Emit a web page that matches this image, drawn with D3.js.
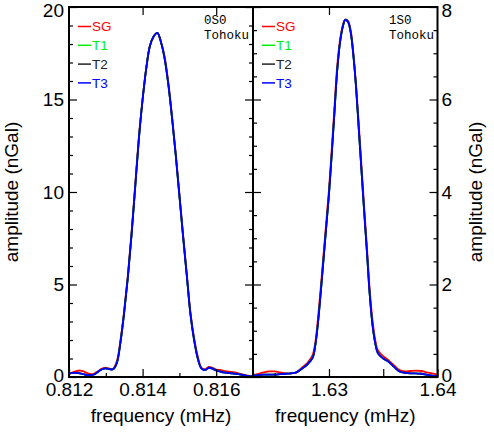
<!DOCTYPE html>
<html>
<head>
<meta charset="utf-8">
<script src="https://cdn.jsdelivr.net/npm/d3@7"></script>
<style>
  body { margin: 0; background: #fff; }
  svg { display: block; font-family: "Liberation Sans", Arial, Helvetica, sans-serif; }
</style>
</head>
<body>
<div id="chart"></div>
<script>
"use strict";

// === DATA: 0S0 mode (left panel) ===
const freq0 = [0.8120, 0.8121, 0.8122, 0.8123, 0.8124, 0.8125, 0.8126, 0.8127, 0.8128, 0.8129,
  0.8130, 0.8131, 0.8132, 0.8133, 0.8134, 0.8135, 0.8136, 0.8137, 0.8138, 0.8139,
  0.8140, 0.8141, 0.8142, 0.8143, 0.8144, 0.8145, 0.8146, 0.8147, 0.8148, 0.8149,
  0.8150, 0.8151, 0.8152, 0.8153, 0.8154, 0.8155, 0.8156, 0.8157, 0.8158, 0.8159,
  0.8160, 0.8161, 0.8162, 0.8163, 0.8164, 0.8165, 0.8166, 0.8167, 0.8168, 0.8169, 0.8170];
const t3_0 = [0.2, 0.22, 0.22, 0.2, 0.15, 0.1, 0.1, 0.15, 0.3, 0.42,
  0.47, 0.42, 0.42, 0.75, 1.9, 3.5, 5.4, 7.7, 10.3, 12.9,
  15.0, 16.7, 17.9, 18.4, 18.6, 18.1, 17.2, 15.8, 14.0, 12.0,
  9.8, 7.6, 5.5, 3.4, 2.0, 1.0, 0.45, 0.38, 0.5, 0.45,
  0.35, 0.3, 0.25, 0.22, 0.2, 0.18, 0.15, 0.12, 0.08, 0.05, 0.03];
const t2_0 = [0.2, 0.22, 0.22, 0.2, 0.15, 0.1, 0.1, 0.15, 0.3, 0.42,
  0.47, 0.42, 0.42, 0.77, 1.9, 3.5, 5.4, 7.7, 10.3, 12.9,
  15.0, 16.7, 17.9, 18.4, 18.6, 18.1, 17.2, 15.8, 14.0, 12.0,
  9.8, 7.6, 5.5, 3.4, 2.0, 1.0, 0.46, 0.38, 0.5, 0.45,
  0.35, 0.3, 0.25, 0.22, 0.2, 0.18, 0.15, 0.12, 0.08, 0.05, 0.03];
const t1_0 = t2_0;
const sg_0 = [0.15, 0.25, 0.32, 0.35, 0.3, 0.2, 0.15, 0.2, 0.33, 0.45,
  0.5, 0.45, 0.45, 0.85, 2.0, 3.6, 5.5, 7.8, 10.4, 13.0,
  15.0, 16.7, 17.9, 18.4, 18.6, 18.1, 17.3, 15.9, 14.1, 12.1,
  9.9, 7.7, 5.6, 3.5, 2.1, 1.1, 0.5, 0.42, 0.55, 0.5,
  0.4, 0.38, 0.33, 0.3, 0.28, 0.25, 0.2, 0.15, 0.1, 0.06, 0.05];

// === DATA: 1S0 mode (right panel) ===
const freq1 = [1.6230, 1.6235, 1.6240, 1.6245, 1.6250, 1.6255, 1.6260, 1.6265, 1.6270, 1.6275,
  1.6280, 1.6285, 1.62875, 1.6290, 1.62925, 1.6295, 1.62975, 1.6300, 1.63025, 1.6305,
  1.63075, 1.6310, 1.63125, 1.6315, 1.63175, 1.6320, 1.63225, 1.6325, 1.63275, 1.6330,
  1.63325, 1.6335, 1.63375, 1.6340, 1.63425, 1.6345, 1.6350, 1.6355, 1.6360, 1.6365,
  1.6370, 1.6375, 1.6380, 1.6385, 1.6390, 1.6395, 1.6400];
const t3_1 = [0.03, 0.04, 0.05, 0.05, 0.05, 0.06, 0.07, 0.08, 0.1, 0.18,
  0.27, 0.42, 0.7, 1.2, 1.85, 2.55, 3.25, 3.95, 4.8, 5.7,
  6.6, 7.2, 7.55, 7.72, 7.68, 7.45, 6.95, 6.25, 5.35, 4.45,
  3.55, 2.7, 1.8, 1.15, 0.75, 0.52, 0.4, 0.33, 0.22, 0.12,
  0.09, 0.08, 0.08, 0.07, 0.05, 0.03, 0.02];
const t2_1 = t3_1;
const t1_1 = t3_1;
const sg_1 = [0.04, 0.07, 0.1, 0.12, 0.12, 0.1, 0.08, 0.08, 0.1, 0.2,
  0.3, 0.48, 0.76, 1.3, 1.95, 2.65, 3.35, 4.05, 4.9, 5.8,
  6.7, 7.25, 7.58, 7.73, 7.7, 7.5, 7.0, 6.3, 5.45, 4.55,
  3.65, 2.8, 1.9, 1.25, 0.82, 0.58, 0.45, 0.36, 0.25, 0.15,
  0.12, 0.13, 0.14, 0.13, 0.1, 0.08, 0.05];

const seriesNames = ["SG", "T1", "T2", "T3"];
const seriesColors = ["#ff0000", "#00ee00", "#222222", "#0000ff"];

// === SVG SETUP ===
const width = 494, height = 432;
const plotTop = 7, plotBottom = 377;

const svg = d3.select("#chart")
  .append("svg")
  .attr("width", width)
  .attr("height", height);

svg.append("defs");

// draws one panel: frame, lines, legend, label
function drawPanel(opt) {
  const x = d3.scaleLinear().domain(opt.xDomain).range([opt.left, opt.right]);
  const y = d3.scaleLinear().domain(opt.yDomain).range([plotBottom, plotTop]);

  svg.select("defs").append("clipPath")
    .attr("id", opt.id)
    .append("rect")
    .attr("x", opt.left).attr("y", plotTop)
    .attr("width", opt.right - opt.left).attr("height", plotBottom - plotTop);

  // --- curves ---
  const line = d3.line()
    .x(d => x(d[0]))
    .y(d => y(d[1]))
    .curve(d3.curveCatmullRom.alpha(0.5));

  const g = svg.append("g").attr("clip-path", `url(#${opt.id})`);
  opt.series.forEach((vals, i) => {
    g.append("path")
      .datum(opt.freq.map((f, j) => [f, vals[j]]))
      .attr("fill", "none")
      .attr("stroke", seriesColors[i])
      .attr("stroke-width", 1.8)
      .attr("d", line);
  });

  // --- bottom axis (major + minor) ---
  const xAxis = svg.append("g")
    .attr("transform", `translate(0,${plotBottom})`)
    .call(d3.axisBottom(x).tickValues(opt.xMajor).tickSize(-8).tickPadding(6)
      .tickFormat(d => opt.xLabels.includes(d) ? d3.format(opt.xFmt)(d) : ""));
  xAxis.selectAll("text").attr("font-size", 19).attr("fill", "#000")
    .attr("font-family", "Liberation Sans, Arial, sans-serif");
  svg.append("g")
    .attr("transform", `translate(0,${plotBottom})`)
    .call(d3.axisBottom(x).tickValues(opt.xMinor).tickSize(-4).tickFormat(""));

  // --- top ticks ---
  svg.append("g")
    .attr("transform", `translate(0,${plotTop})`)
    .call(d3.axisTop(x).tickValues(opt.xTop).tickSize(-8).tickFormat(""));

  // --- left / right ticks ---
  const leftAx = svg.append("g")
    .attr("transform", `translate(${opt.left},0)`)
    .call(d3.axisLeft(y).tickValues(opt.yMajor).tickSize(-8).tickPadding(5)
      .tickFormat(opt.side === "left" ? d3.format("d") : ""));
  svg.append("g")
    .attr("transform", `translate(${opt.left},0)`)
    .call(d3.axisLeft(y).tickValues(opt.yMinor).tickSize(-4).tickFormat(""));
  const rightAx = svg.append("g")
    .attr("transform", `translate(${opt.right},0)`)
    .call(d3.axisRight(y).tickValues(opt.yMajor).tickSize(-8).tickPadding(4)
      .tickFormat(opt.side === "right" ? d3.format("d") : ""));
  svg.append("g")
    .attr("transform", `translate(${opt.right},0)`)
    .call(d3.axisRight(y).tickValues(opt.yMinor).tickSize(-4).tickFormat(""));

  [leftAx, rightAx].forEach(a => a.selectAll("text")
    .attr("font-size", 19).attr("fill", "#000")
    .attr("font-family", "Liberation Sans, Arial, sans-serif")
    .attr("dy", d => d === opt.yDomain[1] ? "0.5em" : d === 0 ? "0.22em" : "0.32em"));

  svg.selectAll(".domain").remove();
  svg.selectAll(".tick line").attr("stroke", "#000").attr("stroke-width", 1.2);

  // --- frame ---
  svg.append("rect")
    .attr("x", opt.left).attr("y", plotTop)
    .attr("width", opt.right - opt.left).attr("height", plotBottom - plotTop)
    .attr("fill", "none")
    .attr("stroke", "#000")
    .attr("stroke-width", 2);

  // --- legend ---
  seriesNames.forEach((name, i) => {
    const ly = 26.5 + i * 18.8;
    svg.append("line")
      .attr("x1", opt.left + 9).attr("x2", opt.left + 22)
      .attr("y1", ly).attr("y2", ly)
      .attr("stroke", seriesColors[i])
      .attr("stroke-width", 1.5);
    svg.append("text")
      .attr("x", opt.left + 23)
      .attr("y", ly)
      .attr("dy", "0.36em")
      .attr("font-size", 13.5)
      .attr("fill", seriesColors[i])
      .text(name);
  });

  // --- mode label ---
  svg.append("text")
    .attr("x", opt.labelX).attr("y", 24)
    .attr("font-family", "Liberation Mono, Courier New, monospace")
    .attr("font-size", 12.5)
    .text(opt.mode);
  svg.append("text")
    .attr("x", opt.labelX).attr("y", 39)
    .attr("font-family", "Liberation Mono, Courier New, monospace")
    .attr("font-size", 12.5)
    .text("Tohoku");

  // --- x title ---
  svg.append("text")
    .attr("x", (opt.left + opt.right) / 2)
    .attr("y", 422)
    .attr("text-anchor", "middle")
    .attr("font-size", 19)
    .text("frequency (mHz)");
}

drawPanel({
  id: "clip0", left: 69, right: 253,
  xDomain: [0.812, 0.817], yDomain: [0, 20],
  freq: freq0, series: [sg_0, t1_0, t2_0, t3_0],
  xMajor: [0.812, 0.814, 0.816], xLabels: [0.812, 0.814, 0.816], xFmt: ".3f",
  xMinor: [0.813, 0.815, 0.817], xTop: [0.814, 0.816],
  yMajor: [0, 5, 10, 15, 20], yMinor: d3.range(0, 21).filter(v => v % 5),
  side: "left", mode: "0S0", labelX: 204
});

drawPanel({
  id: "clip1", left: 253, right: 437.5,
  xDomain: [1.623, 1.64], yDomain: [0, 8],
  freq: freq1, series: [sg_1, t1_1, t2_1, t3_1],
  xMajor: [1.63, 1.635, 1.64], xLabels: [1.63, 1.64], xFmt: ".2f",
  xMinor: [1.625], xTop: [1.63],
  yMajor: [0, 2, 4, 6, 8], yMinor: d3.range(0, 8.5, 0.5).filter(v => v % 2),
  side: "right", mode: "1S0", labelX: 389
});

// === Y AXIS TITLES ===
svg.append("text")
  .attr("transform", "translate(18,192) rotate(-90)")
  .attr("text-anchor", "middle")
  .attr("font-size", 19)
  .text("amplitude (nGal)");

svg.append("text")
  .attr("transform", "translate(482,192) rotate(-90)")
  .attr("text-anchor", "middle")
  .attr("font-size", 19)
  .text("amplitude (nGal)");
</script>
</body>
</html>
